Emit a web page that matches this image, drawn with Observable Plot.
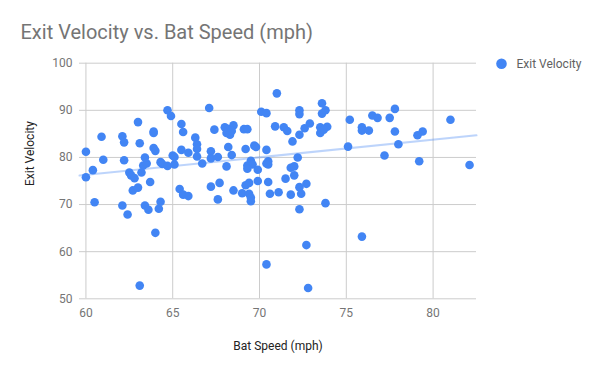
<!DOCTYPE html>
<html>
<head>
<meta charset="utf-8">
<script src="https://cdn.jsdelivr.net/npm/d3@7"></script>
<script src="https://cdn.jsdelivr.net/npm/@observablehq/plot@0.6"></script>
<style>
  html, body { margin: 0; padding: 0; background: #fff; }
  #chart { width: 600px; height: 371px; }
</style>
</head>
<body>
<div id="chart"></div>
<script>
const chartTitle = "Exit Velocity vs. Bat Speed (mph)";
const xTitle = "Bat Speed (mph)";
const yTitle = "Exit Velocity";
const seriesName = "Exit Velocity";
const xTicks = [60, 65, 70, 75, 80];
const yTicks = [50, 60, 70, 80, 90, 100];

const batSpeed = [
  60.0, 60.0, 60.4, 60.5, 60.9, 61.0, 62.1, 62.2, 62.2, 62.1,
  62.4, 62.5, 62.6, 62.8, 62.7, 63.0, 63.0, 63.1, 63.2, 63.3,
  63.5, 63.4, 63.7, 63.4, 63.6, 63.9, 63.9, 63.9, 64.0, 64.3,
  64.2, 64.0, 63.1, 64.3, 64.4, 64.7, 64.7, 64.9, 65.0, 65.1,
  65.1, 65.5, 65.6, 66.3, 66.4, 66.4, 66.4, 65.5, 65.9, 66.7,
  67.2, 67.2, 67.6, 67.4, 67.1, 68.0, 68.2, 68.1, 68.3, 68.5,
  68.4, 68.2, 68.4, 68.1, 69.1, 69.3, 69.2, 69.7, 69.8, 69.5,
  69.3, 69.6, 69.3, 69.9, 70.4, 70.5, 65.4, 65.6, 65.9, 67.2,
  67.7, 67.6, 68.5, 69.0, 69.2, 69.4, 69.9, 69.4, 69.5, 69.5,
  70.6, 70.5, 70.1, 70.4, 70.4, 70.4, 71.0, 70.9, 71.4, 71.6,
  71.9, 72.3, 72.6, 72.9, 72.3, 72.3, 73.6, 73.8, 73.6, 73.5,
  73.9, 73.5, 73.7, 75.2, 75.9, 75.9, 76.3, 76.5, 76.8, 77.5,
  77.8, 77.8, 78.0, 75.1, 77.2, 79.1, 79.4, 79.2, 81.0, 82.1,
  72.2, 70.5, 71.8, 72.0, 72.0, 71.5, 72.3, 72.7, 72.4, 71.1,
  71.8, 72.3, 73.8, 75.9, 72.7, 72.8
];
const exitVelocity = [
  81.2, 75.8, 77.3, 70.5, 84.4, 79.5, 84.5, 83.2, 79.4, 69.8,
  67.9, 76.8, 76.2, 75.6, 73.0, 73.6, 87.5, 83.0, 76.8, 78.3,
  78.7, 80.0, 74.8, 69.8, 68.9, 85.5, 85.2, 82.0, 81.4, 70.6,
  69.1, 64.0, 52.8, 79.0, 78.6, 78.2, 90.0, 88.8, 80.4, 80.1,
  78.5, 87.1, 85.4, 84.2, 82.8, 81.8, 80.2, 81.6, 81.0, 78.7,
  81.3, 79.8, 80.1, 85.9, 90.5, 86.4, 86.0, 85.2, 84.8, 86.8,
  85.6, 82.2, 80.5, 78.1, 86.0, 86.0, 81.8, 82.5, 82.2, 79.3,
  78.3, 78.5, 77.6, 77.4, 78.7, 79.2, 73.3, 72.1, 71.8, 73.8,
  74.6, 71.1, 73.0, 72.4, 74.1, 74.6, 75.0, 72.3, 71.5, 70.7,
  72.3, 74.8, 89.7, 89.4, 57.3, 81.6, 93.6, 86.6, 86.4, 85.6,
  83.4, 84.8, 86.2, 87.2, 90.0, 89.2, 91.5, 90.0, 89.3, 86.4,
  86.5, 85.2, 85.9, 88.0, 86.4, 85.7, 85.7, 88.9, 88.4, 88.4,
  90.3, 85.5, 82.8, 82.3, 80.4, 84.7, 85.5, 79.2, 88.0, 78.4,
  80.0, 78.5, 77.8, 78.1, 76.2, 75.5, 73.7, 74.4, 72.3, 72.6,
  72.1, 69.0, 70.3, 63.2, 61.4, 52.3
];

const points = batSpeed.map((x, i) => ({x, y: exitVelocity[i]}));
const xDomain = [59.63, 82.5];

// least-squares trendline computed from the data
const mx = d3.mean(points, d => d.x);
const my = d3.mean(points, d => d.y);
const slope = d3.sum(points, d => (d.x - mx) * (d.y - my)) / d3.sum(points, d => (d.x - mx) ** 2);
const intercept = my - slope * mx;
const trend = xDomain.map(x => ({x, y: intercept + slope * x}));

const blue = "#4285f4";

const chart = Plot.plot({
  width: 600,
  height: 371,
  marginLeft: 79,
  marginRight: 124,
  marginTop: 62.7,
  marginBottom: 72.7,
  style: {fontFamily: "Roboto, 'Noto Sans', sans-serif", fontSize: "12px", background: "#fff", overflow: "visible"},
  x: {domain: xDomain},
  y: {domain: [50, 100]},
  marks: [
    Plot.gridX(xTicks, {stroke: "#cccccc", strokeOpacity: 1, strokeWidth: 1}),
    Plot.gridY(yTicks, {stroke: "#cccccc", strokeOpacity: 1, strokeWidth: 1}),
    Plot.axisX(xTicks, {tickSize: 0, tickPadding: 10, label: null, fill: "#757575", fontSize: 12}),
    Plot.axisY(yTicks, {tickSize: 0, tickPadding: 7, label: null, fill: "#757575", fontSize: 12}),
    Plot.line(trend, {x: "x", y: "y", stroke: blue, strokeOpacity: 0.35, strokeWidth: 2}),
    Plot.dot(points, {x: "x", y: "y", r: 4.3, fill: blue, stroke: "none"}),
    Plot.text([xTitle], {frameAnchor: "bottom", lineAnchor: "middle", dy: 47.5, text: d => d, fill: "#222", fontSize: 12}),
    Plot.text([yTitle], {frameAnchor: "left", lineAnchor: "middle", rotate: -90, dx: -49, dy: 5, text: d => d, fill: "#222", fontSize: 12}),
    Plot.text([chartTitle], {frameAnchor: "top-left", lineAnchor: "middle", textAnchor: "start", dx: -59, dy: -31, text: d => d, fill: "#757575", fontSize: 20}),
    Plot.dot([seriesName], {frameAnchor: "top-right", dx: 25, dy: 0.5, r: 5.3, fill: blue, stroke: "none"}),
    Plot.text([seriesName], {frameAnchor: "top-right", lineAnchor: "middle", textAnchor: "start", dx: 40, dy: 0.5, text: d => d, fill: "#616161", fontSize: 12})
  ]
});
document.getElementById("chart").appendChild(chart);
</script>
</body>
</html>
